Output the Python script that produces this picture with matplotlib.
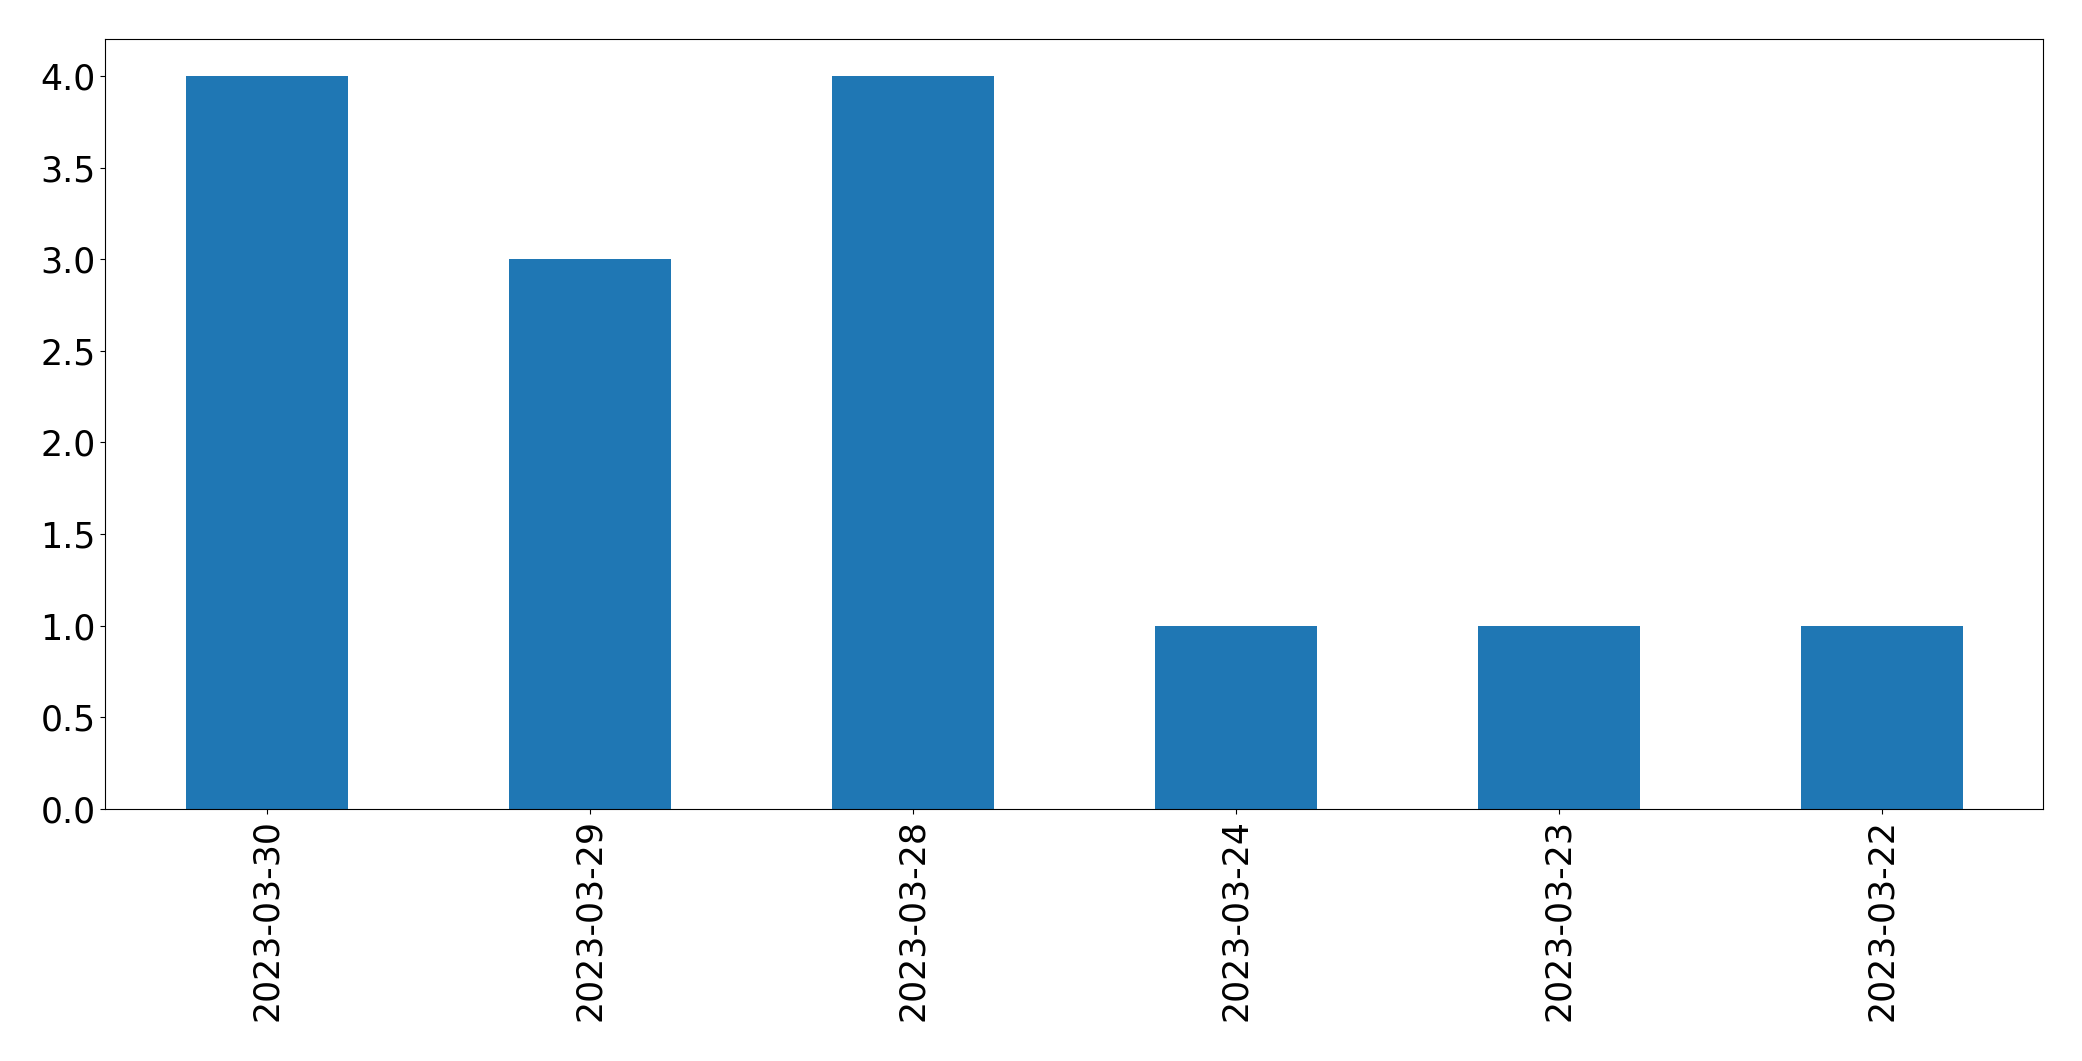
import matplotlib
matplotlib.use("Agg")
import matplotlib.pyplot as plt

# datos del grafico
dates = ["2023-03-30", "2023-03-29", "2023-03-28", "2023-03-24", "2023-03-23", "2023-03-22"]
counts = [4, 3, 4, 1, 1, 1]


def main():
    fig = plt.figure(figsize=(20.82, 10.61), dpi=100)
    ax = fig.add_axes([0.0506, 0.2375, 0.9308, 0.7255])

    positions = list(range(len(dates)))
    ax.bar(positions, counts, width=0.5, color="#1f77b4")
    ax.set_xlim(-0.5, len(dates) - 0.5)
    ax.set_ylim(0, max(counts) * 1.05)
    ax.set_xticks(positions)
    ax.set_xticklabels(dates, rotation=90)
    ax.tick_params(axis="both", labelsize=25)

    fig.savefig("out.png", dpi=100)


if __name__ == "__main__":
    main()
